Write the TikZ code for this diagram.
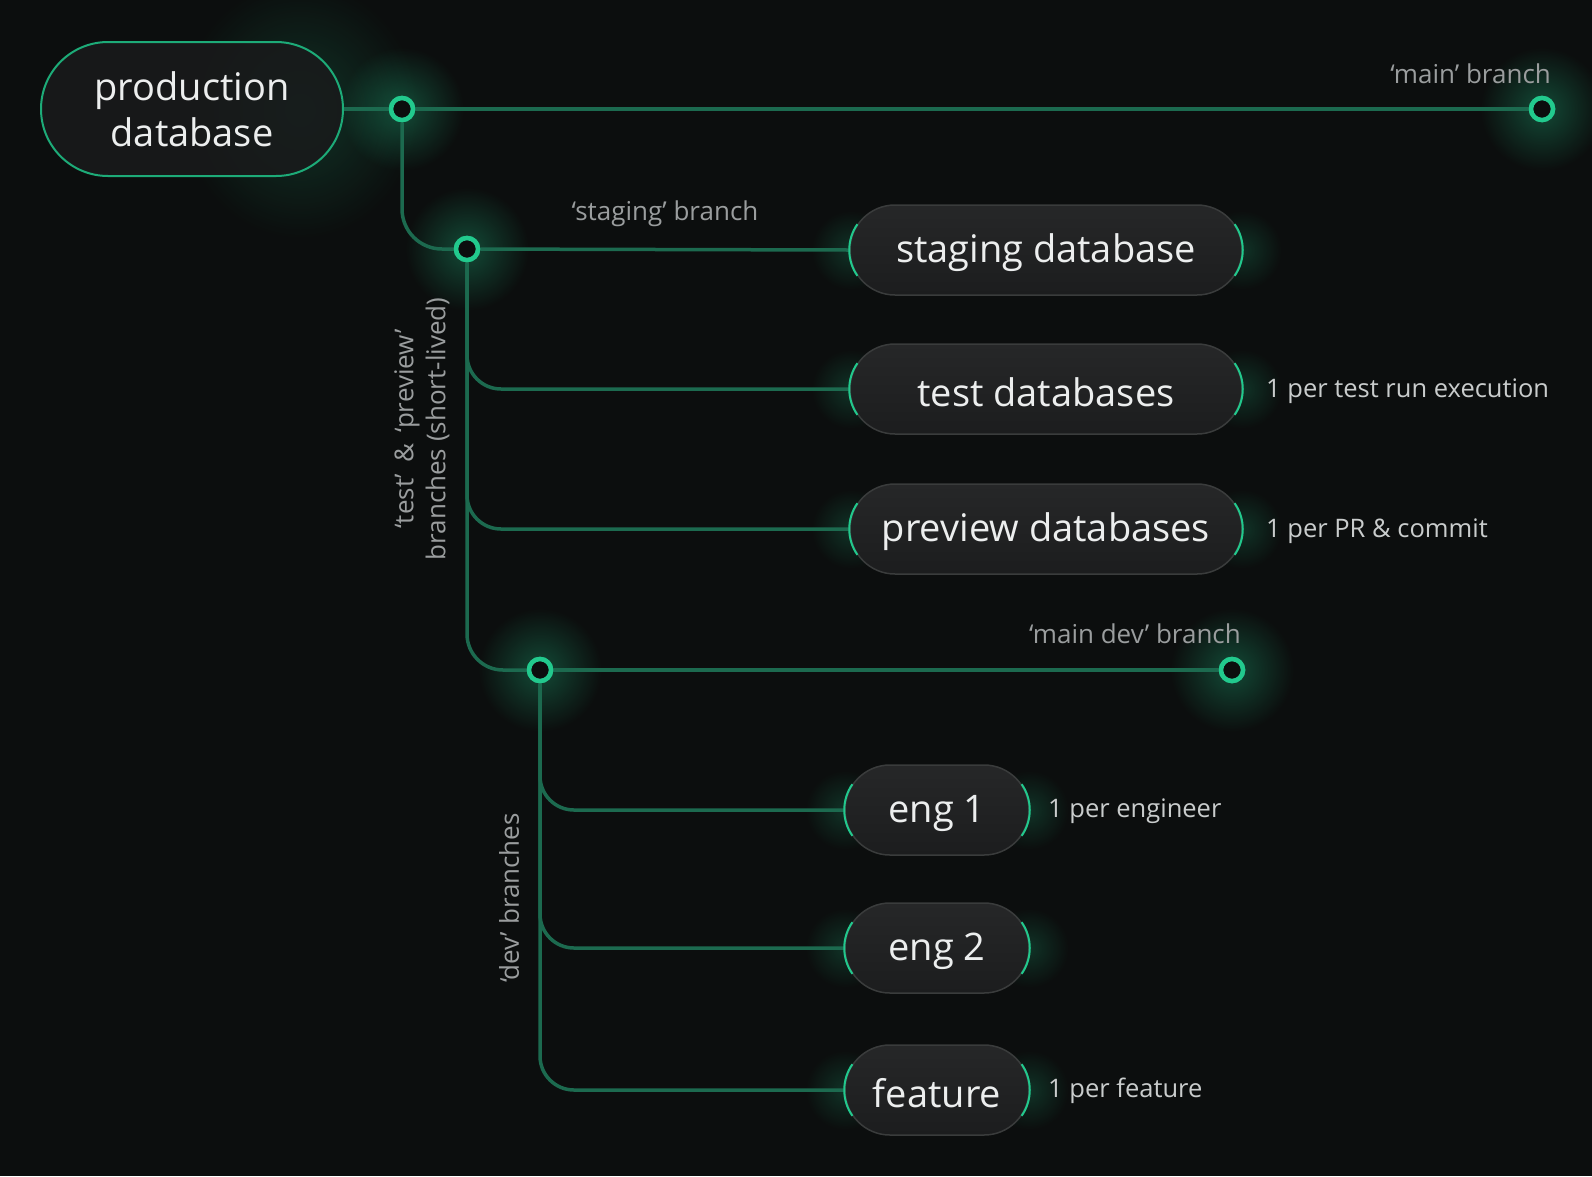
\documentclass[tikz,border=0pt]{standalone}
\usepackage{fontspec}
\setmainfont{Open Sans}
\usetikzlibrary{calc,fadings}
\definecolor{bg}{HTML}{0C0E0E}
\definecolor{gbright}{HTML}{22C98D}
\definecolor{gline}{HTML}{1C6A4F}
\definecolor{pilltop}{HTML}{262728}
\definecolor{pillbot}{HTML}{1C1D1E}
\definecolor{pilledge}{HTML}{3A3C3C}
\definecolor{txt}{HTML}{ECEEEE}
\definecolor{lbl}{HTML}{9A9D9E}
\definecolor{note}{HTML}{C9CCCC}
\tikzfading[name=glowfade, inner color=transparent!68, outer color=transparent!100]
\tikzfading[name=softfade, inner color=transparent!80, outer color=transparent!100]
\newcommand\pillsides[2]{%
  \draw[gbright, line width=2pt] ($(#1.west)+(#2,0)$) ++(145:#2) arc[start angle=145,end angle=215,radius=#2];
  \draw[gbright, line width=2pt] ($(#1.east)-(#2,0)$) ++(-35:#2) arc[start angle=-35,end angle=35,radius=#2];}
\newcommand\lowtext[1]{\raisebox{-3pt}[\height][\depth]{#1}}
\tikzset{
  dot/.style={circle, minimum size=22pt, inner sep=0pt, draw=gbright, line width=4.5pt, fill=bg},
  conn/.style={draw=gline, line width=3.5pt},
  pill/.style={rectangle, rounded corners=45pt, minimum height=90pt, inner sep=0pt,
    top color=pilltop, bottom color=pillbot, draw=pilledge, line width=1.5pt,
    text=txt, font=\fontsize{38}{45}\selectfont},
  lbltext/.style={text=lbl, font=\fontsize{26}{32}\selectfont, inner sep=0pt},
  notetext/.style={text=note, font=\fontsize{25.5}{32}\selectfont, inner sep=0pt, anchor=west},
  glow/.style={fill=gbright, path fading=glowfade},
  soft/.style={fill=gbright, path fading=softfade},
}
\begin{document}
\begin{tikzpicture}[x=1pt, y=-1pt]
\fill[bg] (0,0) rectangle (1592,1176);
\useasboundingbox (0,0) rectangle (1592,1176);

% glows
\fill[soft] (300,110) ellipse (120 and 130);
\foreach \p in {(402,109),(467,249),(540,670),(1542,109),(1232,670)}
  \fill[glow] \p circle (62);
\foreach \p in {(851,250),(1242,250),(851,389),(1242,389),(851,529),(1242,529),
                (845,810),(1029,810),(845,948),(1029,948),(845,1090),(1029,1090)}
  \fill[soft] \p circle (40);

% nodes
\node[rectangle, rounded corners=67pt, minimum width=302pt, minimum height=134pt, inner sep=0pt,
      fill=pillbot!80!bg, fill opacity=0.85, text opacity=1, draw=gbright!85!black, line width=2pt,
      text=txt, align=center, font=\fontsize{38}{46}\selectfont] (prod) at (192,109) {production\\database};
\node[dot] (n1) at (402,109) {};
\node[dot] (mainend) at (1542,109) {};
\node[dot] (n2) at (467,249) {};
\node[dot] (n3) at (540,670) {};
\node[dot] (devend) at (1232,670) {};

\node[pill, minimum width=392pt] (staging) at (1046,250) {\lowtext{staging database}};
\node[pill, minimum width=392pt] (test) at (1046,389) {\lowtext{test databases}};
\node[pill, minimum width=392pt] (preview) at (1046,529) {\lowtext{preview databases}};
\node[pill, minimum width=184pt] (eng1) at (937,810) {\lowtext{eng 1}};
\node[pill, minimum width=184pt] (eng2) at (937,948) {\lowtext{eng 2}};
\node[pill, minimum width=184pt] (feature) at (937,1090) {\lowtext{feature}};

% connectors
\draw[conn] (prod.east) -- (n1);
\draw[conn] (n1) -- (mainend);
\draw[conn, rounded corners=40pt] (n1) |- (n2);
\draw[conn] (n2) -- (staging.west);
\draw[conn, rounded corners=34pt] (n2) |- (test.west);
\draw[conn, rounded corners=34pt] (n2) |- (preview.west);
\draw[conn, rounded corners=36pt] (n2) |- (n3);
\draw[conn] (n3) -- (devend);
\draw[conn, rounded corners=34pt] (n3) |- (eng1.west);
\draw[conn, rounded corners=34pt] (n3) |- (eng2.west);
\draw[conn, rounded corners=34pt] (n3) |- (feature.west);

% dots on top of connectors
\node[dot] at (n1) {};
\node[dot] at (mainend) {};
\node[dot] at (n2) {};
\node[dot] at (n3) {};
\node[dot] at (devend) {};

\pillsides{staging}{45}
\pillsides{test}{45}
\pillsides{preview}{45}
\pillsides{eng1}{45}
\pillsides{eng2}{45}
\pillsides{feature}{45}

% labels
\node[lbltext, anchor=east] (lmain) at (1551,74) {‘main’ branch};
\node[lbltext] (lstaging) at (665,214) {‘staging’ branch};
\node[lbltext, anchor=east] (lmaindev) at (1241,634) {‘main dev’ branch};
\node[lbltext, rotate=90, align=center] (ltest) at (422,429) {‘test’ \,\&\, ‘preview’\\branches (short-lived)};
\node[lbltext, rotate=90] (ldev) at (509,898) {‘dev’ branches};

\node[notetext] (ntest) at (1266,391) {1 per test run execution};
\node[notetext] (npreview) at (1266,531) {1 per PR \& commit};
\node[notetext] (neng) at (1048,811) {1 per engineer};
\node[notetext] (nfeat) at (1048,1091) {1 per feature};
\end{tikzpicture}
\end{document}
